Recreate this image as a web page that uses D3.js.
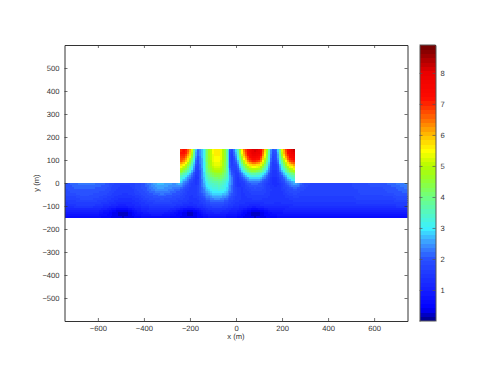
<!DOCTYPE html>
<html><head><meta charset="utf-8">
<script src="https://cdn.jsdelivr.net/npm/d3@7"></script>
<style>html,body{margin:0;padding:0;background:#fff}svg{display:block}text{font-family:"Liberation Sans",Arial,sans-serif;font-size:7.6px;fill:#333;text-rendering:geometricPrecision;opacity:.99}</style>
</head><body><svg id="c" width="495" height="380"></svg>
<script>
const xTicks=[-600,-400,-200,0,200,400,600];
const yTicks=[-500,-400,-300,-200,-100,0,100,200,300,400,500];
const cTicks=[1,2,3,4,5,6,7,8];
const xLabel="x (m)", yLabel="y (m)";
const xDomain=[-745,745], yDomain=[600,-600], cDomain=[0,8.9];
const xStart=-745, gridStep=25;
const colorValues=[0,0.4,1,2,2.5,3,4,4.6,5,5.5,6,6.5,7.2,8,8.9];
const colorStops=["#000082","#0000ff","#141eff","#2850ff","#3c96ff","#3cf0ff","#6eff82","#96ff28","#b4fa00","#ffff00","#ffbe00","#ff6e00","#ff0a00","#eb0000","#6e0000"];

// upper block: x = -245 ... 255, y = 150 ... 25
const upperY=[150,125,100,75,50,25];
const upper150=[7.0,7.4,6.0,2.2,2.8,4.6,5.6,5.6,4.3,1.6,3.2,6.2,7.7,8.3,8.0,5.5,2.0,2.3,6.0,7.8,8.6];
const upper125=[7.1,7.2,5.6,2.0,2.8,4.6,5.6,5.6,4.3,1.4,2.9,5.9,7.5,8.0,7.7,5.2,1.8,2.1,5.6,7.5,8.0];
const upper100=[6.8,6.4,4.6,1.8,2.8,4.5,5.5,5.5,4.3,1.4,2.4,5.0,6.9,7.3,6.9,4.6,1.7,1.9,4.6,6.8,7.4];
const upper75=[5.7,5.2,3.6,1.6,2.7,4.4,5.3,5.3,4.2,1.6,1.9,3.9,5.4,5.7,5.4,3.7,1.6,1.6,3.6,5.5,6.0];
const upper50=[4.6,4.0,2.9,1.4,2.7,4.1,4.8,4.9,4.0,2.0,1.5,2.9,4.1,4.4,4.0,2.9,1.5,1.5,2.8,4.2,4.8];
const upper25=[3.5,3.0,2.2,1.3,2.6,3.7,4.2,4.3,3.7,2.4,1.4,2.1,2.9,3.1,2.9,2.2,1.4,1.4,2.1,3.1,3.6];

// lower band: x = -745 ... 755, y = 0 ... -150
const lowerY=[0,-25,-50,-75,-100,-125,-150];
const lower0=[2.0,2.1,2.2,2.3,2.3,2.3,2.2,2.1,1.9,1.8,1.7,1.7,1.8,1.9,2.1,2.4,2.7,2.7,2.6,2.5,
 2.8,2.3,1.7,1.4,2.5,3.2,3.6,3.7,3.2,2.4,1.4,1.6,2.1,2.2,2.1,1.7,1.3,1.3,1.7,2.3,2.7,
 2.3,1.9,1.8,1.7,1.7,1.7,1.7,1.8,1.8,1.8,1.9,1.9,2.0,2.0,2.0,2.1,2.2,2.3,2.4,2.5];
const lower25=[1.9,2.0,2.1,2.1,2.1,2.1,2.0,2.0,1.8,1.7,1.6,1.6,1.7,1.9,2.0,2.3,2.5,2.5,2.4,2.3,
 2.1,1.9,1.5,1.7,2.3,2.9,3.2,3.3,3.0,2.3,1.6,1.5,1.8,1.9,1.9,1.7,1.5,1.4,1.6,1.9,2.0,
 1.9,1.8,1.7,1.7,1.7,1.7,1.7,1.7,1.8,1.8,1.8,1.9,1.9,1.9,1.9,2.0,2.0,2.1,2.2,2.3];
const lower50=[1.8,1.9,1.9,2.0,2.0,1.9,1.9,1.8,1.7,1.6,1.5,1.5,1.6,1.7,1.9,2.0,2.1,2.2,2.1,2.0,
 1.9,1.7,1.5,1.7,2.1,2.5,2.8,2.8,2.6,2.1,1.6,1.5,1.6,1.7,1.7,1.6,1.5,1.4,1.5,1.7,1.8,
 1.7,1.7,1.7,1.7,1.7,1.7,1.7,1.7,1.7,1.7,1.8,1.8,1.8,1.8,1.8,1.9,1.9,2.0,2.0,2.1];
const lower75=[1.6,1.7,1.7,1.8,1.8,1.8,1.7,1.6,1.5,1.4,1.3,1.3,1.4,1.5,1.7,1.8,1.9,1.9,1.9,1.8,
 1.7,1.6,1.5,1.5,1.8,2.1,2.3,2.3,2.1,1.8,1.6,1.5,1.5,1.5,1.5,1.5,1.5,1.4,1.5,1.5,1.6,
 1.6,1.6,1.6,1.6,1.6,1.6,1.6,1.6,1.6,1.6,1.7,1.7,1.7,1.7,1.7,1.7,1.7,1.8,1.8,1.8];
const lower100=[1.4,1.4,1.5,1.5,1.5,1.5,1.4,1.3,1.2,1.1,1.0,1.1,1.2,1.3,1.4,1.5,1.6,1.6,1.6,1.5,
 1.4,1.3,1.2,1.4,1.5,1.7,1.8,1.8,1.7,1.5,1.4,1.3,1.2,1.1,1.2,1.3,1.3,1.3,1.3,1.3,1.4,
 1.4,1.4,1.4,1.4,1.4,1.4,1.4,1.4,1.4,1.4,1.4,1.4,1.4,1.4,1.4,1.4,1.4,1.5,1.5,1.5];
const lower125=[1.0,1.0,1.0,1.0,1.0,0.9,0.9,0.7,0.5,0.3,0.15,0.25,0.6,0.8,1.0,1.1,1.1,1.1,1.0,0.8,
 0.5,0.3,0.15,0.4,0.9,1.1,1.2,1.2,1.1,1.0,0.9,0.6,0.3,0.15,0.25,0.5,0.8,0.9,0.9,1.0,1.0,
 1.0,1.0,1.0,1.0,1.0,1.0,1.0,1.0,1.0,1.0,1.0,1.0,1.0,1.0,1.0,1.0,1.0,1.0,1.0,1.0];
const lower150=[0.5,0.6,0.6,0.6,0.6,0.6,0.5,0.5,0.4,0.3,0.3,0.3,0.4,0.5,0.5,0.6,0.6,0.6,0.5,0.4,
 0.4,0.3,0.3,0.4,0.5,0.6,0.7,0.7,0.6,0.5,0.5,0.4,0.3,0.3,0.3,0.4,0.4,0.5,0.5,0.6,0.6,
 0.6,0.6,0.6,0.6,0.6,0.6,0.6,0.6,0.6,0.6,0.6,0.6,0.6,0.6,0.6,0.6,0.6,0.6,0.6,0.6];

const upperRows=[upper150,upper125,upper100,upper75,upper50,upper25];
const lowerRows=[lower0,lower25,lower50,lower75,lower100,lower125,lower150];

const svg=d3.select("#c");
const L=64.5,R=407.5,T=45,B=321,CL=419.5,CR=435.5;
const x=d3.scaleLinear().domain(xDomain).range([L,R]);
const y=d3.scaleLinear().domain(yDomain).range([T,B]);
const cy=d3.scaleLinear().domain(cDomain).range([B,T]);
const smooth=d3.scaleLinear().domain(colorValues).range(colorStops).clamp(true);
const levels=64;
const color=v=>smooth((Math.min(levels-1,Math.floor(v/cDomain[1]*levels))+.5)*cDomain[1]/levels);

const upperX=d3.range(upper150.length).map(i=>-245+i*gridStep);
const lowerX=d3.range(lower0.length).map(i=>xStart+i*gridStep);
function drawBlock(g,xs,ys,rows){
  const sub=3, cells=[];
  for(let j=0;j<ys.length-1;j++)for(let s=0;s<sub;s++)for(let i=0;i<xs.length-1;i++)for(let r=0;r<sub;r++){
    const fx=(r+.5)/sub, fy=(s+.5)/sub;
    const v=(rows[j][i]*(1-fx)+rows[j][i+1]*fx)*(1-fy)+(rows[j+1][i]*(1-fx)+rows[j+1][i+1]*fx)*fy;
    const xa=xs[i]+(xs[i+1]-xs[i])*r/sub, xb=xs[i]+(xs[i+1]-xs[i])*(r+1)/sub;
    const ya=ys[j]+(ys[j+1]-ys[j])*s/sub, yb=ys[j]+(ys[j+1]-ys[j])*(s+1)/sub;
    cells.push({xa,xb,ya,yb,v});
  }
  g.selectAll(null).data(cells).join("rect")
   .attr("x",d=>x(d.xa)).attr("width",d=>x(d.xb)-x(d.xa)+.4)
   .attr("y",d=>y(d.ya)).attr("height",d=>y(d.yb)-y(d.ya)+.4)
   .attr("fill",d=>color(d.v));
}
svg.append("clipPath").attr("id","pl").append("rect").attr("x",L).attr("y",T).attr("width",R-L).attr("height",B-T);
const field=svg.append("g").attr("clip-path","url(#pl)").attr("shape-rendering","crispEdges");
drawBlock(field.append("g"),upperX,[...upperY,0],[...upperRows,lower0.slice(20,41)]);
drawBlock(field.append("g"),lowerX,lowerY,lowerRows);

function fmt(v){return String(v).replace("-","\u2212");}
function styleAxis(g,col){
  g.selectAll("path").attr("stroke",col);
  g.selectAll("line").attr("stroke",col).attr("stroke-width",.7);
  g.selectAll("text").attr("fill","#333");
}
const frame="#333";
const ax=svg.append("g");
ax.append("g").attr("transform",`translate(0,${B})`).call(d3.axisBottom(x).tickValues(xTicks).tickSizeInner(-3).tickSizeOuter(0).tickPadding(5).tickFormat(fmt)).call(styleAxis,frame);
ax.append("g").attr("transform",`translate(0,${T})`).call(d3.axisTop(x).tickValues(xTicks).tickSizeInner(-3).tickSizeOuter(0).tickFormat("")).call(styleAxis,frame);
ax.append("g").attr("transform",`translate(${L},0)`).call(d3.axisLeft(y).tickValues(yTicks).tickSizeInner(-3).tickSizeOuter(0).tickPadding(5).tickFormat(fmt)).call(styleAxis,frame);
ax.append("g").attr("transform",`translate(${R},0)`).call(d3.axisRight(y).tickValues(yTicks).tickSizeInner(-3).tickSizeOuter(0).tickFormat("")).call(styleAxis,frame);
svg.selectAll(".domain").attr("stroke-width",1);
svg.append("text").attr("x",x(0)).attr("y",339).attr("text-anchor","middle").text(xLabel);
svg.append("text").attr("transform",`translate(38.5,${y(0)}) rotate(-90)`).attr("text-anchor","middle").text(yLabel);

const cb=svg.append("g");
const bands=d3.range(levels);
cb.selectAll("rect").data(bands).join("rect")
  .attr("x",CL).attr("width",CR-CL)
  .attr("y",i=>cy(cDomain[1]*(i+1)/levels)).attr("height",i=>cy(cDomain[1]*i/levels)-cy(cDomain[1]*(i+1)/levels)+.4)
  .attr("fill",i=>smooth((i+.5)*cDomain[1]/levels))
  .attr("shape-rendering","crispEdges");
const cg=svg.append("g");
cg.append("g").attr("transform",`translate(${CR},0)`).call(d3.axisRight(cy).tickValues(cTicks).tickSizeInner(-3).tickSizeOuter(0).tickPadding(5).tickFormat(d3.format("d"))).call(styleAxis,"#555");
cg.append("g").attr("transform",`translate(${CL},0)`).call(d3.axisLeft(cy).tickValues(cTicks).tickSizeInner(-3).tickSizeOuter(0).tickFormat("")).call(styleAxis,"#555");
cg.append("line").attr("x1",CL).attr("x2",CR).attr("y1",T).attr("y2",T).attr("stroke","#555");
cg.append("line").attr("x1",CL).attr("x2",CR).attr("y1",B).attr("y2",B).attr("stroke","#555");
</script></body></html>
